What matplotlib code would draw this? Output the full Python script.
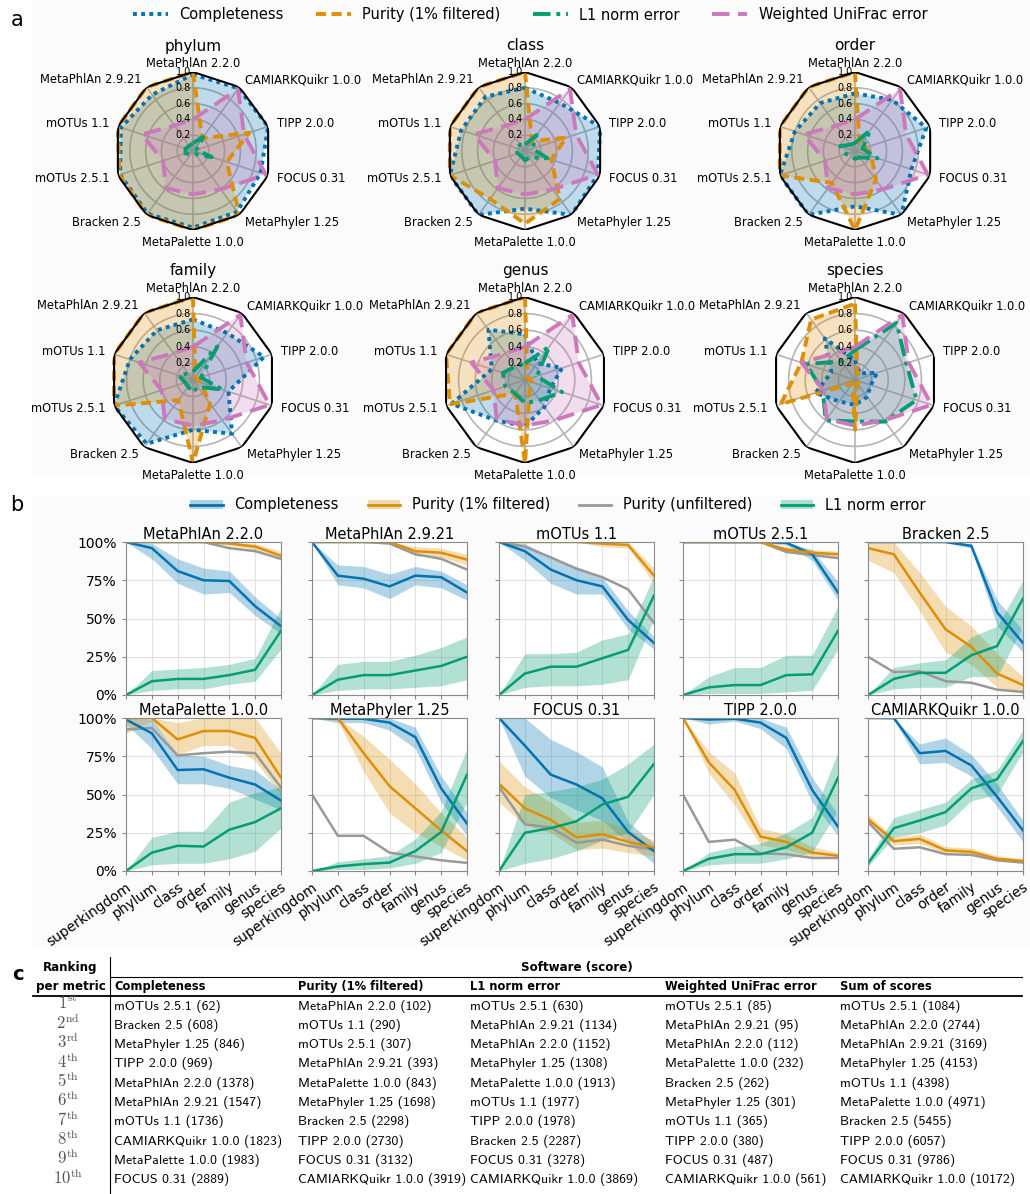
import numpy as np
import matplotlib
matplotlib.use("Agg")
import matplotlib.pyplot as plt
from matplotlib.lines import Line2D
from matplotlib.patches import Patch, Rectangle

plt.rcParams["mathtext.fontset"] = "cm"

W, H = 1030, 1194

# ── colours ──────────────────────────────────────────────────────────────────
C_COMP = "#0173b2"
C_PUR = "#de8f05"
C_L1 = "#029e73"
C_UNI = "#cc78bc"
C_UNF = "#999999"

# ── panel a: radar data (values normalised 0..1), clockwise from top ─────────
RADAR_TOOLS = ["MetaPhlAn 2.2.0", "CAMIARKQuikr 1.0.0", "TIPP 2.0.0", "FOCUS 0.31",
               "MetaPhyler 1.25", "MetaPalette 1.0.0", "Bracken 2.5", "mOTUs 2.5.1",
               "mOTUs 1.1", "MetaPhlAn 2.9.21"]
RADAR_RANKS = ["phylum", "class", "order", "family", "genus", "species"]

comp_radar = [
    [0.97, 0.98, 1.00, 0.90, 0.95, 0.97, 0.98, 0.97, 0.96, 0.88],
    [0.80, 0.75, 1.00, 0.97, 1.00, 0.73, 1.00, 1.00, 0.85, 0.85],
    [0.73, 0.80, 0.95, 0.75, 1.00, 0.70, 1.00, 1.00, 0.80, 0.75],
    [0.73, 0.70, 0.90, 0.45, 0.80, 0.60, 0.95, 1.00, 0.80, 0.74],
    [0.55, 0.25, 0.47, 0.32, 0.40, 0.56, 0.60, 0.93, 0.42, 0.75],
    [0.24, 0.10, 0.28, 0.20, 0.25, 0.30, 0.32, 0.50, 0.30, 0.62],
]
purity_radar = [
    [1.00, 0.20, 0.75, 0.45, 1.00, 1.00, 1.00, 0.98, 1.00, 1.00],
    [1.00, 0.15, 0.55, 0.35, 0.75, 0.92, 0.75, 1.00, 1.00, 1.00],
    [1.00, 0.10, 0.15, 0.22, 0.45, 1.00, 0.50, 1.00, 1.00, 1.00],
    [1.00, 0.05, 0.05, 0.10, 0.35, 1.00, 0.30, 1.00, 1.00, 1.00],
    [1.00, 0.05, 0.05, 0.10, 0.10, 1.00, 0.20, 0.95, 1.00, 1.00],
    [0.92, 0.05, 0.05, 0.05, 0.05, 0.60, 0.05, 0.94, 0.68, 0.90],
]
l1_radar = [
    [0.10, 0.22, 0.05, 0.25, 0.05, 0.05, 0.05, 0.10, 0.10, 0.08],
    [0.08, 0.25, 0.10, 0.30, 0.10, 0.12, 0.08, 0.10, 0.12, 0.10],
    [0.10, 0.33, 0.10, 0.30, 0.10, 0.10, 0.08, 0.12, 0.20, 0.10],
    [0.10, 0.50, 0.10, 0.38, 0.10, 0.15, 0.10, 0.10, 0.18, 0.10],
    [0.20, 0.50, 0.15, 0.47, 0.30, 0.28, 0.20, 0.25, 0.28, 0.20],
    [0.36, 0.85, 0.65, 0.78, 0.62, 0.50, 0.60, 0.41, 0.62, 0.28],
]
unifrac_radar = [0.40, 0.97, 0.68, 0.97, 0.60, 0.55, 0.58, 0.40, 0.68, 0.40]

# ── panel b: per-rank curves (%) ─────────────────────────────────────────────
B_TOOLS = ["MetaPhlAn 2.2.0", "MetaPhlAn 2.9.21", "mOTUs 1.1", "mOTUs 2.5.1", "Bracken 2.5",
           "MetaPalette 1.0.0", "MetaPhyler 1.25", "FOCUS 0.31", "TIPP 2.0.0",
           "CAMIARKQuikr 1.0.0"]
B_RANKS = ["superkingdom", "phylum", "class", "order", "family", "genus", "species"]

comp_mean = [
    [100, 96, 81, 75, 74.5, 58, 45],
    [100, 78, 76, 71, 78, 77, 67],
    [100, 94, 82, 75, 71, 49, 34],
    [100, 100, 100, 100, 99.5, 92, 67],
    [100, 100, 100, 100, 97.5, 54, 34],
    [99, 90, 66, 66.5, 61, 56.5, 46],
    [100, 99.5, 99.5, 97, 87.5, 54, 31],
    [100, 82, 63, 56.5, 47.5, 25.5, 13],
    [100, 99, 99.5, 97, 87, 53, 29],
    [100, 100, 77, 78.5, 69, 48.5, 26.5],
]
comp_lo = [
    [100, 89, 73, 66, 67, 52, 40],
    [100, 72, 70, 63, 72, 70, 62],
    [100, 88, 73, 66, 66, 43, 30],
    [100, 100, 99.5, 99.5, 98, 88, 62],
    [100, 100, 100, 99.5, 96, 45, 28],
    [96, 80, 57, 57, 54, 47, 40],
    [100, 97, 97, 92, 80, 45, 23],
    [100, 62, 48, 40, 33, 18, 5],
    [100, 96, 98, 93, 80, 45, 23],
    [100, 99, 70, 71, 62, 42, 19],
]
comp_hi = [
    [100, 99, 89, 83, 81, 64, 50],
    [100, 85, 84, 79, 84, 81, 72],
    [100, 99, 90, 84, 77, 55, 38],
    [100, 100, 100, 100, 100, 95, 74],
    [100, 100, 100, 100, 99, 62, 42],
    [100, 99, 76, 75, 69, 66, 53],
    [100, 100, 100, 100, 94, 62, 38],
    [100, 100, 86, 78, 68, 32, 18],
    [100, 100, 100, 100, 94, 61, 37],
    [100, 100, 83, 87, 76, 57, 33],
]
pur_mean = [
    [100, 100, 100, 100, 99, 97, 91],
    [100, 100, 100, 100, 94, 93, 88.5],
    [100, 100, 100, 100, 99, 98, 78],
    [100, 100, 100, 100, 95, 93, 92],
    [96, 92, 67, 43, 31.5, 14, 6.5],
    [100, 100, 86, 91.5, 91.5, 87, 61],
    [100, 100, 77, 55.5, 41, 26.5, 13],
    [57, 41, 33.5, 22, 24, 19, 15.5],
    [100, 71, 53, 22.5, 19, 12, 10],
    [34, 19.5, 21, 13.5, 12.5, 8, 6.5],
]
pur_lo = [
    [100, 100, 100, 99.5, 98, 95, 88],
    [100, 100, 100, 99, 91, 90, 85],
    [100, 100, 100, 100, 97, 96, 73],
    [100, 100, 100, 100, 93, 91, 89],
    [88, 80, 55, 28, 20, 5, 1],
    [90, 98, 76, 82, 82, 72, 50],
    [100, 98, 65, 38, 25, 16, 7],
    [45, 30, 25, 14, 15, 12, 10],
    [100, 64, 43, 17, 14, 9, 8],
    [31, 17, 18, 11.5, 10.5, 6.5, 5],
]
pur_hi = [
    [100, 100, 100, 100, 100, 99, 94],
    [100, 100, 100, 100, 97, 96, 92],
    [100, 100, 100, 100, 100, 100, 83],
    [100, 100, 100, 100, 97, 95, 94],
    [100, 100, 80, 58, 45, 27, 12],
    [100, 100, 97, 100, 100, 100, 77],
    [100, 100, 88, 73, 57, 38, 22],
    [72, 55, 45, 32, 33, 27, 20],
    [100, 78, 64, 28, 24, 16, 12],
    [37, 22, 24, 16, 15, 10, 8],
]
pur_unf = [
    [100, 100, 100, 100, 96, 94, 89],
    [100, 100, 100, 99, 92, 89, 82],
    [100, 97, 90, 82.5, 77, 69, 47],
    [100, 100, 100, 100, 93.5, 91.5, 89.5],
    [25, 15, 15.5, 9, 8, 3.5, 2],
    [92.5, 93.5, 75.5, 77, 78, 77, 54.5],
    [50, 23, 23, 12, 9.5, 7, 5.3],
    [55, 30.5, 28.5, 18.5, 20.5, 16.5, 14],
    [50, 19, 20.5, 11.5, 11, 8.5, 8.5],
    [32, 14.5, 15.5, 11, 10.5, 7, 5.5],
]
l1_mean = [
    [0, 9, 10.5, 10.5, 13, 16.5, 42],
    [0, 10, 13, 13, 16, 19, 25],
    [0, 14, 18.5, 18.5, 24, 29.5, 65],
    [0, 5, 6.5, 6.5, 13, 13.5, 42],
    [0, 10.5, 14.5, 14.5, 26, 32, 63],
    [0, 12, 16.5, 16, 27, 32, 41],
    [0, 3, 4.5, 5.5, 13, 25.5, 63],
    [0, 25, 28, 32.5, 43.5, 48.5, 70],
    [0, 8, 11, 11, 15.5, 25, 61],
    [5, 28, 33, 38.5, 54, 60, 85],
]
l1_lo = [
    [0, 3, 4, 4, 7, 9, 30],
    [0, 3, 4, 4, 5, 6, 10],
    [0, 5, 6, 6, 7, 10, 50],
    [0, 1, 1, 1, 2, 3, 30],
    [0, 4, 5, 5, 12, 12, 45],
    [0, 4, 5, 5, 8, 13, 28],
    [0, 1, 1, 2, 5, 12, 45],
    [0, 5, 8, 13, 20, 25, 50],
    [0, 4, 5, 5, 8, 12, 40],
    [3, 22, 25, 30, 46, 50, 78],
]
l1_hi = [
    [0, 16, 17, 18, 20, 24, 57],
    [0, 20, 22, 22, 26, 31, 38],
    [0, 27, 27, 28, 36, 40, 78],
    [0, 12, 18, 18, 26, 26, 58],
    [0, 18, 21, 23, 38, 45, 75],
    [0, 22, 26, 26, 45, 51, 55],
    [0, 6, 8, 10, 21, 39, 80],
    [0, 50, 52, 55, 60, 70, 83],
    [0, 12, 16, 18, 25, 35, 78],
    [8, 35, 40, 45, 60, 66, 92],
]

# ── panel c: ranking table ───────────────────────────────────────────────────
TABLE_HEADERS = ["Completeness", "Purity (1% filtered)", "L1 norm error",
                 "Weighted UniFrac error", "Sum of scores"]
ORDINALS = ["st", "nd", "rd", "th", "th", "th", "th", "th", "th", "th"]
rank_completeness = ["mOTUs 2.5.1 (62)", "Bracken 2.5 (608)", "MetaPhyler 1.25 (846)",
                     "TIPP 2.0.0 (969)", "MetaPhlAn 2.2.0 (1378)", "MetaPhlAn 2.9.21 (1547)",
                     "mOTUs 1.1 (1736)", "CAMIARKQuikr 1.0.0 (1823)",
                     "MetaPalette 1.0.0 (1983)", "FOCUS 0.31 (2889)"]
rank_purity = ["MetaPhlAn 2.2.0 (102)", "mOTUs 1.1 (290)", "mOTUs 2.5.1 (307)",
               "MetaPhlAn 2.9.21 (393)", "MetaPalette 1.0.0 (843)", "MetaPhyler 1.25 (1698)",
               "Bracken 2.5 (2298)", "TIPP 2.0.0 (2730)", "FOCUS 0.31 (3132)",
               "CAMIARKQuikr 1.0.0 (3919)"]
rank_l1 = ["mOTUs 2.5.1 (630)", "MetaPhlAn 2.9.21 (1134)", "MetaPhlAn 2.2.0 (1152)",
           "MetaPhyler 1.25 (1308)", "MetaPalette 1.0.0 (1913)", "mOTUs 1.1 (1977)",
           "TIPP 2.0.0 (1978)", "Bracken 2.5 (2287)", "FOCUS 0.31 (3278)",
           "CAMIARKQuikr 1.0.0 (3869)"]
rank_unifrac = ["mOTUs 2.5.1 (85)", "MetaPhlAn 2.9.21 (95)", "MetaPhlAn 2.2.0 (112)",
                "MetaPalette 1.0.0 (232)", "Bracken 2.5 (262)", "MetaPhyler 1.25 (301)",
                "mOTUs 1.1 (365)", "TIPP 2.0.0 (380)", "FOCUS 0.31 (487)",
                "CAMIARKQuikr 1.0.0 (561)"]
rank_sum = ["mOTUs 2.5.1 (1084)", "MetaPhlAn 2.2.0 (2744)", "MetaPhlAn 2.9.21 (3169)",
            "MetaPhyler 1.25 (4153)", "mOTUs 1.1 (4398)", "MetaPalette 1.0.0 (4971)",
            "Bracken 2.5 (5455)", "TIPP 2.0.0 (6057)", "FOCUS 0.31 (9786)",
            "CAMIARKQuikr 1.0.0 (10172)"]


def box(x, y, w, h):
    """pixel box (from top-left) -> figure fraction rect"""
    return [x / W, 1 - (y + h) / H, w / W, h / H]


fig = plt.figure(figsize=(W / 100, H / 100), dpi=100)

# faint panel backgrounds
for (y0, y1) in [(0, 473), (497, 945)]:
    fig.add_artist(Rectangle((33 / W, 1 - y1 / H), 1 - 33 / W, (y1 - y0) / H,
                             transform=fig.transFigure, color="#fbfbfb", zorder=-10))

fig.text(17 / W, 1 - 20 / H, "a", fontsize=15, va="center", ha="center")
fig.text(17 / W, 1 - 505 / H, "b", fontsize=15, va="center", ha="center")
fig.text(18 / W, 1 - 975 / H, "c", fontsize=14, va="center", ha="center", fontweight="bold")

# ── panel a ──────────────────────────────────────────────────────────────────
STYLES = [
    (C_COMP, (0, (1, 1.1)), "Completeness"),
    (C_PUR, (0, (2.6, 1.4)), "Purity (1% filtered)"),
    (C_L1, (0, (4.5, 1.5, 1, 1.5)), "L1 norm error"),
    (C_UNI, (0, (4.5, 2.2)), "Weighted UniFrac error"),
]
N = len(RADAR_TOOLS)
theta = np.linspace(0, 2 * np.pi, N, endpoint=False)
closed = np.append(theta, theta[0])
fine = np.linspace(0, 2 * np.pi, 240)
centers = [(193, 151), (525, 151), (855, 151), (193, 380), (525, 380), (855, 380)]

for k, rank in enumerate(RADAR_RANKS):
    cx, cy = centers[k]
    R = 79 if k < 3 else 83
    ax = fig.add_axes(box(cx - R, cy - R, 2 * R, 2 * R), projection="polar")
    ax.set_theta_zero_location("N")
    ax.set_theta_direction(-1)
    ax.set_ylim(0, 1)
    ax.grid(False)
    ax.spines["polar"].set_visible(False)
    ax.patch.set_visible(False)
    ax.set_xticks([])
    ax.set_yticks([])
    ax.fill(closed, np.ones(N + 1), color="white", zorder=0)
    for r in [0.2, 0.4, 0.6, 0.8]:
        ax.plot(fine, np.full_like(fine, r), color="#b4b4b4", lw=1.2, zorder=1)
    for t in theta:
        ax.plot([t, t], [0, 1], color="#b4b4b4", lw=1.2, zorder=1)
    ax.plot(closed, np.ones(N + 1), color="black", lw=1.5, zorder=6)

    series = [comp_radar[k], purity_radar[k], l1_radar[k], unifrac_radar]
    for vals, (col, ls, _) in zip(series, STYLES):
        v = np.append(vals, vals[0])
        ax.fill(closed, v, color=col, alpha=0.25, zorder=2, lw=0)
        ax.plot(closed, v, color=col, ls=ls, lw=2.8, zorder=4)

    for r in [0.2, 0.4, 0.6, 0.8, 1.0]:
        ax.annotate(f"{r:.1f}", xy=(0, r), xytext=(-1.5, 0), textcoords="offset points",
                    ha="right", va="center", fontsize=7, zorder=7)

    for i, (t, name) in enumerate(zip(theta, RADAR_TOOLS)):
        s, c = np.sin(t), np.cos(t)
        if i == 0:
            ha, va, off = "center", "bottom", (0, 1.5)
        elif i == N // 2:
            ha, va, off = "center", "top", (0, -4)
        else:
            ha = "left" if s > 0 else "right"
            va = "center"
            off = (6.5 * s, 6.5 * c)
        ax.annotate(name, xy=(t, 1.0), xytext=off, textcoords="offset points",
                    ha=ha, va=va, fontsize=8.3, zorder=8)
    fig.text(cx / W, 1 - (cy - R - 26) / H, rank, fontsize=11, ha="center", va="center")

handles_a = [Line2D([], [], color=c, ls=ls, lw=2.8) for c, ls, _ in STYLES]
fig.legend(handles_a, [lab for _, _, lab in STYLES], loc="center",
           bbox_to_anchor=(530 / W, 1 - 15 / H), ncol=4, frameon=False, fontsize=10.5,
           handlelength=2.4, columnspacing=2.2)

# ── panel b ──────────────────────────────────────────────────────────────────
COL_X = [126, 312, 499, 683, 868]
ROW_Y = [542, 718]
x = np.arange(len(B_RANKS))

for i, tool in enumerate(B_TOOLS):
    row, col = divmod(i, 5)
    ax = fig.add_axes(box(COL_X[col], ROW_Y[row], 155, 153))
    ax.fill_between(x, comp_lo[i], comp_hi[i], color=C_COMP, alpha=0.3, lw=0)
    ax.fill_between(x, pur_lo[i], pur_hi[i], color=C_PUR, alpha=0.3, lw=0)
    ax.fill_between(x, l1_lo[i], l1_hi[i], color=C_L1, alpha=0.3, lw=0)
    ax.plot(x, pur_unf[i], color=C_UNF, lw=1.8)
    ax.plot(x, comp_mean[i], color=C_COMP, lw=1.8)
    ax.plot(x, pur_mean[i], color=C_PUR, lw=1.8)
    ax.plot(x, l1_mean[i], color=C_L1, lw=1.8)
    ax.set_xlim(0, 6)
    ax.set_ylim(0, 100)
    ax.set_xticks(x)
    ax.set_yticks([0, 25, 50, 75, 100])
    ax.grid(True, color="#e2e2e2", lw=0.8)
    ax.set_axisbelow(True)
    for sp in ax.spines.values():
        sp.set_color("#8a8a8a")
    ax.tick_params(length=3, color="#8a8a8a", labelsize=10)
    ax.set_title(tool, fontsize=10.5, pad=2)
    if col == 0:
        ax.set_yticklabels([f"{v}%" for v in [0, 25, 50, 75, 100]])
    else:
        ax.set_yticklabels([])
    if row == 1:
        ax.set_xticklabels(B_RANKS, rotation=35, ha="right", rotation_mode="anchor")
    else:
        ax.set_xticklabels([])

handles_b = [
    (Patch(facecolor=C_COMP, alpha=0.3, lw=0), Line2D([], [], color=C_COMP, lw=2)),
    (Patch(facecolor=C_PUR, alpha=0.3, lw=0), Line2D([], [], color=C_PUR, lw=2)),
    Line2D([], [], color=C_UNF, lw=2),
    (Patch(facecolor=C_L1, alpha=0.3, lw=0), Line2D([], [], color=C_L1, lw=2)),
]
fig.legend(handles_b, ["Completeness", "Purity (1% filtered)", "Purity (unfiltered)",
                       "L1 norm error"],
           loc="center", bbox_to_anchor=(558 / W, 1 - 505 / H), ncol=4, frameon=False,
           fontsize=10.5, handlelength=2.2, handleheight=0.6, columnspacing=2.0)

# ── panel c ──────────────────────────────────────────────────────────────────
tax = fig.add_axes(box(0, 940, W, H - 940))
tax.set_xlim(0, W)
tax.set_ylim(H, 940)
tax.axis("off")

TFONT = "cmss10"
tax.text(70, 967, "Ranking", fontsize=8.6, fontweight="bold", ha="center", va="center")
tax.text(71, 986, "per metric", fontsize=8.6, fontweight="bold", ha="center", va="center")
tax.text(577, 967, "Software (score)", fontsize=8.6, fontweight="bold", ha="center",
         va="center")
tax.plot([110, 1022], [977, 977], color="black", lw=0.8)
tax.plot([33, 1022], [996, 996], color="black", lw=1.3)
tax.plot([110, 110], [957, 1194], color="black", lw=0.8)

COLS_X = [114, 298, 470, 665, 840]
columns = [rank_completeness, rank_purity, rank_l1, rank_unifrac, rank_sum]
for cx, head, entries in zip(COLS_X, TABLE_HEADERS, columns):
    tax.text(cx, 986, head, fontsize=8.3, fontweight="bold", ha="left", va="center")
    for j, entry in enumerate(entries):
        tax.text(cx, 1006 + j * 19.33, entry, fontsize=9.9, family=TFONT,
                 ha="left", va="center")
for j, suf in enumerate(ORDINALS):
    tax.text(68, 1004 + j * 19.33, rf"${j + 1}^{{\mathrm{{{suf}}}}}$", fontsize=12,
             color="#555555", ha="center", va="center")

fig.savefig("out.png", dpi=100)
